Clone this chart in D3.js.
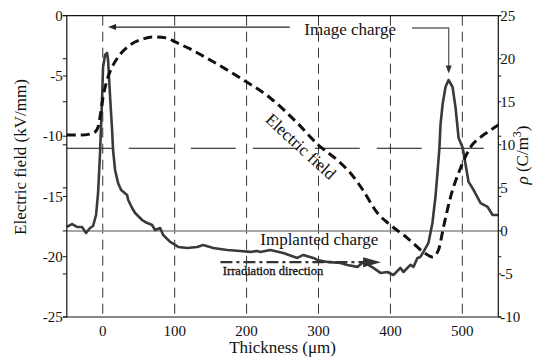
<!DOCTYPE html>
<html><head><meta charset="utf-8">
<script src="https://cdn.jsdelivr.net/npm/d3@7"></script>
<style>
body{margin:0;background:#fff}
svg{display:block}
</style></head>
<body><svg id="c" width="538" height="360" font-family="'Liberation Serif', 'DejaVu Serif', serif"></svg>
<script>
// ---------- data ----------
const xTicks = [0, 100, 200, 300, 400, 500];
const leftTicks = [0, -5, -10, -15, -20, -25];
const rightTicks = [25, 20, 15, 10, 5, 0, -5, -10];

// Electric field (kV/mm), left axis
const fieldX = [-50,-31.6,-17.7,-10.7,-6.5,-3.8,0.4,6.0,13.0,21.3,38.0,56.1,70.0,89.5,100.7,121.5,149.4,191.2,232.9,270.5,299.8,326.1,344.3,361.0,381.9,400.0,423.6,445.9,458.4,466.8,473.8,483.6,497.5,511.5,525.4,539.3,550];
const fieldE = [-9.90,-9.90,-9.82,-9.65,-9.24,-8.41,-6.75,-5.33,-4.26,-3.43,-2.43,-1.93,-1.77,-1.85,-2.18,-2.76,-3.68,-5.17,-6.83,-8.90,-10.73,-11.98,-13.05,-14.40,-16.37,-17.37,-18.45,-19.61,-20.02,-19.44,-17.54,-15.05,-12.64,-10.90,-10.07,-9.49,-9.07];

// Space charge density (C/m^3), right axis
const chargeX = [-50,-42.7,-35.8,-28.8,-23.2,-17.7,-13.5,-9.3,-6.5,-3.8,-1.0,0.4,3.2,6.0,7.4,10.2,13.0,14.3,17.1,21.3,25.5,33.8,35.4,40.8,45.0,54.7,58.9,68.6,72.8,79.8,84.0,93.7,100.7,104.9,117.4,131.3,139.6,153.6,173.1,191.1,205.1,214.8,219.0,232.9,251.0,270.5,278.9,292.8,298.4,312.3,330.4,340.1,354.1,362.4,376.3,386.1,395.8,404.2,413.9,418.1,427.8,432.0,437.6,441.7,445.9,452.9,458.4,462.6,465.4,468.2,469.6,472.4,476.6,480.8,486.4,490.6,494.8,500.4,504.6,508.7,515.7,525.4,535.2,542.1,550];
const chargeRho = [0.46,0.80,0.46,0.46,-0.24,0.34,0.57,1.85,4.41,9.05,15.21,19.04,20.44,20.67,19.85,15.56,11.72,9.40,7.08,5.57,4.75,4.17,3.59,2.66,2.08,1.27,1.04,0.69,0.11,0.34,-0.47,-1.28,-1.63,-1.86,-1.98,-1.86,-1.63,-1.98,-2.21,-2.33,-2.44,-2.33,-2.44,-2.21,-2.56,-3.14,-2.79,-3.14,-3.37,-3.60,-3.72,-3.95,-4.18,-3.60,-4.30,-4.88,-4.77,-5.12,-4.30,-4.77,-3.95,-4.18,-3.14,-3.02,-2.44,-1.40,0.92,3.94,6.72,9.74,12.30,14.62,16.72,17.53,16.72,14.28,10.79,9.70,7.66,5.69,4.75,3.24,2.78,1.85,1.85];

const refFieldLevel = -11;     // long-dash reference line (left axis)
const implantedLevel = 0;      // grey zero line (right axis)

// ---------- chart ----------
const FONT = "'Liberation Serif', 'DejaVu Serif', serif";
const svg = d3.select("#c");
svg.append("rect").attr("width",538).attr("height",360).attr("fill","#fff");

const x = d3.scaleLinear().domain([-50,550]).range([66.8,498.3]);
const yL = d3.scaleLinear().domain([-25,0]).range([317,15.7]);
const yR = d3.scaleLinear().domain([-10,25]).range([317,15.7]);

// vertical dashed guide lines
svg.append("g").selectAll("line").data(xTicks).join("line")
  .attr("x1",d=>x(d)).attr("x2",d=>x(d)).attr("y1",yL(0)).attr("y2",yL(-25))
  .attr("stroke","#333").attr("stroke-width",1).attr("stroke-dasharray","10,6");

// long-dash horizontal reference
svg.append("line").attr("x1",x(-50)).attr("x2",x(530)).attr("y1",yL(refFieldLevel)).attr("y2",yL(refFieldLevel))
  .attr("stroke","#111").attr("stroke-width",1).attr("stroke-dasharray","45,17");

// grey zero line of charge
svg.append("line").attr("x1",x(-50)).attr("x2",x(550)).attr("y1",yR(implantedLevel)).attr("y2",yR(implantedLevel))
  .attr("stroke","#8a8a8a").attr("stroke-width",1.5);

// charge curve
const chargeData = chargeX.map((v,i)=>[v,chargeRho[i]]);
svg.append("path").datum(chargeData)
  .attr("d", d3.line().x(d=>x(d[0])).y(d=>yR(d[1])))
  .attr("fill","none").attr("stroke","#3a3a3a").attr("stroke-width",2.6).attr("stroke-linejoin","round");

// electric field curve
const fieldData = fieldX.map((v,i)=>[v,fieldE[i]]);
svg.append("path").datum(fieldData)
  .attr("d", d3.line().x(d=>x(d[0])).y(d=>yL(d[1])).curve(d3.curveMonotoneX))
  .attr("fill","none").attr("stroke","#111").attr("stroke-width",3).attr("stroke-dasharray","9,5");

const T = (sel)=>sel.attr("font-family",FONT).attr("fill","#111");

// ---------- annotations ----------
// Image charge
const icY = yL(-0.94);
svg.append("line").attr("x1",x(7.4)+6).attr("x2",x(260)).attr("y1",icY).attr("y2",icY)
  .attr("stroke","#222").attr("stroke-width",1.2);
svg.append("path").attr("d",`M${x(7.4)},${icY} l8,-3 l0,6 z`).attr("fill","#222");
T(svg.append("text")).attr("x",x(344)).attr("y",yL(-1.6)).attr("text-anchor","middle")
  .attr("font-size",17).text("Image charge");
const rcX = x(481);
svg.append("path").attr("d",`M${x(430)},${icY+1} L${rcX},${icY+1} L${rcX},${yR(18.3)-7}`)
  .attr("fill","none").attr("stroke","#666").attr("stroke-width",1.4);
svg.append("path").attr("d",`M${rcX},${yR(18.3)} l-3,-8 l6,0 z`).attr("fill","#333");

// Electric field label
T(svg.append("text")).attr("transform",`translate(${x(270)},${yL(-11.2)}) rotate(42.5)`)
  .attr("text-anchor","middle").attr("font-size",17).text("Electric field");

// Implanted charge label
T(svg.append("text")).attr("x",x(219)).attr("y",yL(-19.05)).attr("font-size",17).text("Implanted charge");

// Irradiation direction arrow
const irY = yL(-20.45);
svg.append("line").attr("x1",x(163.6)).attr("x2",x(370)).attr("y1",irY).attr("y2",irY)
  .attr("stroke","#333").attr("stroke-width",2.4).attr("stroke-dasharray","12,4,3,4");
svg.append("path").attr("d",`M${x(387)},${irY} l-18,-5 l0,10 z`).attr("fill","#333");
T(svg.append("text")).attr("x",x(167)).attr("y",yL(-21.55)).attr("font-size",12.5)
  .attr("stroke","#111").attr("stroke-width",0.3).text("Irradiation direction");

// ---------- axes ----------
const ax = svg.append("g").attr("stroke","#111").attr("stroke-width",1.2);
ax.append("line").attr("x1",x(-50)).attr("x2",x(550)).attr("y1",yL(0)).attr("y2",yL(0));
ax.append("line").attr("x1",x(-50)).attr("x2",x(550)).attr("y1",yL(-25)).attr("y2",yL(-25));
ax.append("line").attr("x1",x(-50)).attr("x2",x(-50)).attr("y1",yL(0)).attr("y2",yL(-25));
ax.append("line").attr("x1",x(550)).attr("x2",x(550)).attr("y1",yL(0)).attr("y2",yL(-25));

// tick marks (both scales shown on both sides)
const tickYs = leftTicks.map(v=>yL(v)).concat(rightTicks.map(v=>yR(v)));
ax.selectAll("line.tl").data(tickYs).join("line").attr("class","tl")
  .attr("x1",x(-50)-4).attr("x2",x(-50)).attr("y1",d=>d).attr("y2",d=>d).attr("stroke-width",1);
ax.selectAll("line.tr").data(tickYs).join("line").attr("class","tr")
  .attr("x1",x(550)).attr("x2",x(550)+3).attr("y1",d=>d).attr("y2",d=>d).attr("stroke-width",1);

// tick labels
T(svg.append("g").selectAll("text").data(leftTicks).join("text"))
  .attr("x",x(-50)-4).attr("y",d=>yL(d)).attr("dy","0.35em").attr("text-anchor","end")
  .attr("font-size",15).text(d=>d);
T(svg.append("g").selectAll("text").data(rightTicks).join("text"))
  .attr("x",x(550)+2).attr("y",d=>yR(d)).attr("dy","0.35em").attr("text-anchor","start")
  .attr("font-size",15).text(d=>d);
T(svg.append("g").selectAll("text").data(xTicks).join("text"))
  .attr("x",d=>x(d)).attr("y",336).attr("text-anchor","middle")
  .attr("font-size",15).text(d=>d);

// axis titles
T(svg.append("text")).attr("x",(x(-50)+x(550))/2).attr("y",353).attr("text-anchor","middle")
  .attr("font-size",17).text("Thickness (μm)");
T(svg.append("text")).attr("transform","translate(26,157) rotate(-90)").attr("text-anchor","middle")
  .attr("font-size",17).text("Electric field (kV/mm)");
const rt = T(svg.append("text")).attr("transform","translate(528,155) rotate(-90)").attr("text-anchor","middle")
  .attr("font-size",17);
rt.append("tspan").attr("font-style","italic").text("ρ");
rt.append("tspan").text(" (C/m");
rt.append("tspan").attr("font-size",12).attr("dy",-7).text("3");
rt.append("tspan").attr("dy",7).text(")");
</script></body></html>
